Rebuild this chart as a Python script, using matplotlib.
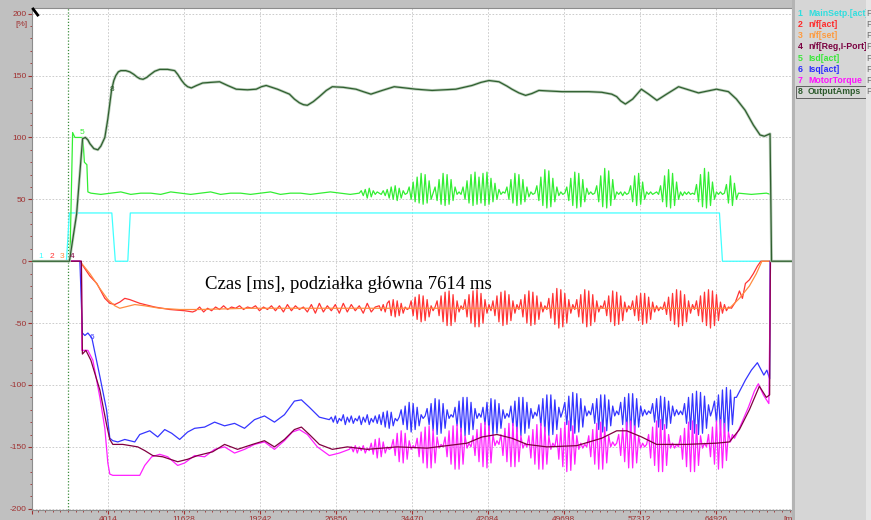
import numpy as np
import matplotlib
matplotlib.use("Agg")
import matplotlib.pyplot as plt
import matplotlib.transforms as mtransforms
from matplotlib.patches import Rectangle
from matplotlib.ticker import FixedLocator, MultipleLocator

plt.rcParams["axes.unicode_minus"] = False

# time axis [ms]: 10 main divisions of 7614 ms
t_min, t_max = -3600, 72540
main_div = 7614
x_labels = ["", "4014", "11628", "19242", "26856", "34470", "42084",
            "49698", "57312", "64926", "[ms]"]
y_ticks = [-200, -150, -100, -50, 0, 50, 100, 150, 200]

trace_names = ["MainSetp.[act]", "n/f[act]", "n/f[set]", "n/f[Reg,I-Port]",
               "Isd[act]", "Isq[act]", "MotorTorque", "OutputAmps"]
line_colors = ["#40ffff", "#ff3434", "#ff8c40", "#800040",
               "#33ee33", "#3535ff", "#ff20ff", "#2f5f2f"]
text_colors = ["#30dede", "#ff2828", "#ff9a3c", "#7a0040",
               "#38e838", "#2a2aff", "#ff10ff", "#2c5a2c"]

step = 200  # ms between samples in the oscillating stretches

# 1 MainSetp.[act]
setp = [(-3600, 0), (-150, 0), (150, 39), (4400, 39), (4750, 0), (6000, 0),
        (6250, 39), (65300, 39), (65600, 0), (72540, 0)]

# 8 OutputAmps
amps = [(-3600, 0), (150, 0), (870, 38), (1470, 99), (1750, 100), (2000, 98),
        (2200, 95), (2600, 91), (3000, 90), (3300, 93), (3700, 100), (4000, 115),
        (4370, 138), (4600, 146), (4800, 150), (5050, 153), (5300, 154),
        (5800, 154), (6200, 153), (6600, 151), (6900, 149), (7200, 147.5),
        (7530, 147), (7900, 148.5), (8200, 150.5), (8700, 153.5), (9200, 155),
        (10000, 155), (10700, 154), (11000, 151), (11400, 146), (11700, 143),
        (12000, 141), (12370, 140), (12900, 142), (13500, 144), (14300, 144.5),
        (15200, 145), (16000, 142), (16870, 139), (18000, 138.5), (18870, 139),
        (19400, 141), (19870, 142), (21000, 139), (22200, 135), (22700, 131),
        (23200, 128), (23600, 126.5), (24000, 126), (24600, 129), (25200, 133),
        (25900, 138), (26500, 141), (27600, 140.5), (28870, 139), (29600, 137),
        (30370, 135), (31500, 138), (32700, 141), (33800, 140), (34870, 139),
        (36500, 138), (38870, 139), (40500, 142), (41400, 144.5), (42200, 146),
        (43200, 145), (44000, 141.5), (44500, 139), (45200, 136), (45870, 134),
        (46500, 135.5), (47200, 138), (48300, 137.5), (49530, 137), (52200, 137),
        (53500, 136.5), (54500, 135), (55000, 133), (55400, 129.5), (55870, 127),
        (56600, 131), (57470, 139), (58200, 135), (59030, 130), (60000, 135),
        (61200, 141), (62200, 138.5), (63200, 136), (64100, 137.5), (65000, 139),
        (66200, 137), (67000, 131), (67870, 122), (68700, 110), (69370, 102),
        (69800, 101), (70370, 103), (70520, 0), (72540, 0)]

# 5 Isd[act]
isd_head = [(-3600, 0), (200, 0), (470, 104), (700, 100), (1500, 100),
            (1650, 80), (1900, 78), (2000, 56), (2300, 55), (3300, 54),
            (4300, 55), (5300, 56), (6300, 54), (7300, 55), (8300, 55),
            (9300, 54), (10300, 56), (11300, 55), (12300, 54), (13300, 55),
            (14300, 56), (15300, 54), (16300, 55), (17300, 55), (18300, 54),
            (19300, 55), (20300, 56), (21300, 54), (22300, 55), (23300, 55),
            (24300, 54), (25300, 55), (26300, 56), (27300, 55), (28300, 54)]
isd_osc_t0 = 29200
isd_osc = [55, 57, 53, 58, 51, 59, 52, 57, 54, 56,
           55, 54,
           57, 53, 58, 51, 60, 50, 61, 49, 59, 51, 57, 54,
           55,
           60, 50, 64, 48, 68, 47, 71, 46, 70, 47, 65, 50,
           55,
           60, 49, 66, 46, 71, 45, 70, 46, 66, 49, 60,
           54, 56, 54,
           60, 50, 65, 47, 70, 45, 72, 46, 68, 47, 71, 45, 72, 46, 67, 48, 63, 50, 58,
           54, 56, 55,
           60, 50, 66, 47, 71, 45, 70, 46, 66, 48, 60, 52,
           56, 54, 55,
           61, 49, 68, 45, 74, 43, 73, 44, 67, 48, 60,
           53, 56, 54, 55,
           60, 49, 67, 45, 72, 43, 71, 44, 66, 48, 59,
           54, 56, 54, 55,
           61, 48, 69, 44, 75, 43, 73, 45, 66, 50,
           56, 54, 56, 53, 56, 54, 55,
           61, 48, 69, 45, 71, 46, 64, 50,
           56, 54, 56, 54, 55, 56, 54,
           61, 48, 69, 44, 74, 43, 71, 45, 64, 50,
           56, 53, 56, 54, 56, 54, 55, 54,
           62, 48, 70, 44, 75, 43, 72, 45, 64, 50,
           56, 54, 56, 54, 55,
           62, 47, 69, 45, 63, 50]
isd_tail = [(67200, 55), (68500, 54), (70000, 55), (70420, 54), (70480, 0), (72540, 0)]

# 2 n/f[act]
nact_head = [(-3600, 0), (1200, 0), (2200, -12), (2900, -18), (3700, -30),
             (4200, -34), (4700, -35), (5200, -33), (5700, -30), (6200, -31),
             (7200, -34), (8700, -37), (10200, -39), (11700, -40), (12500, -41)]
nact_rip_t0 = 12800
nact_rip = [-40, -37, -41, -38, -40, -37, -39, -36, -39, -37, -38, -36, -39, -37,
            -38, -36, -40, -37, -39, -36, -40, -36, -41, -35, -40, -36, -39, -37,
            -41, -35, -42, -34, -41, -36, -40, -35, -42, -34, -41, -35, -40, -36,
            -42, -34, -41, -37]
nact_osc_t0 = 31200
nact_osc = [-36, -40, -35, -41, -34,
            -32, -44, -31, -45, -32, -44, -34, -42,
            -37, -39, -38,
            -32, -44, -29, -47, -27, -49, -28, -48, -31, -45,
            -36, -40, -37,
            -32, -44, -28, -49, -25, -52, -24, -52, -27, -49, -32,
            -41, -36, -39,
            -31, -45, -27, -50, -24, -53, -23, -53, -26, -50, -31,
            -42, -35, -40,
            -32, -44, -28, -49, -25, -52, -24, -51, -27, -48, -32,
            -42, -35, -39,
            -31, -45, -27, -50, -24, -52, -25, -51, -28, -47, -33,
            -41, -36, -39,
            -30, -46, -26, -51, -22, -54, -23, -53, -26, -50, -31,
            -42, -35, -39,
            -31, -45, -27, -50, -23, -53, -24, -52, -27, -49, -32,
            -41, -36, -38,
            -32, -44, -28, -49, -24, -52, -25, -51, -28, -48, -33,
            -41, -36, -39,
            -32, -44, -28, -48, -26, -51, -26, -50, -29, -47, -33,
            -41, -36, -40, -37, -39,
            -33, -43, -29, -48, -26, -51, -23, -53, -24, -52, -27, -49, -32,
            -42, -35, -39,
            -32, -44, -28, -49, -25, -52, -23, -54, -24, -52, -27, -48, -33,
            -42, -35, -40, -37]
nact_tail = [(66500, -38), (66900, -33), (67300, -24), (67600, -30), (67900, -18),
             (68300, -15), (68700, -10), (69100, -4), (69450, 0), (72540, 0)]

# 3 n/f[set]
nset = [(-3600, 0), (1200, 0), (2200, -10), (3200, -22), (4000, -31),
        (4700, -36), (5200, -38), (5700, -37), (6700, -35), (7700, -36),
        (9200, -38), (11200, -39), (13200, -39), (18200, -38), (23200, -38),
        (30000, -38), (40000, -38), (50000, -38), (60000, -38), (66300, -38),
        (67300, -30), (68300, -20), (69000, -10), (69550, 0), (72540, 0)]

# 6 Isq[act]
isq_head = [(-3600, 0), (1200, 0), (1450, -58), (1700, -60), (2000, -58),
            (2400, -62), (3200, -93), (3870, -120), (4200, -143), (4500, -145),
            (5000, -146), (5700, -144), (6200, -145), (6700, -146), (7200, -140),
            (8200, -137), (9000, -142), (9700, -136), (10400, -139), (11200, -144),
            (12000, -138), (12700, -135), (13700, -134), (14700, -130),
            (15700, -133), (16700, -131), (17700, -135), (18700, -128),
            (19700, -125), (20700, -130), (21700, -124), (22700, -113),
            (23400, -112), (24200, -118), (25200, -126), (26200, -128)]
isq_osc_t0 = 26400
isq_osc = [-126, -130, -125, -131, -127, -129, -124, -132, -126, -130, -125, -131,
           -127, -129, -125, -132, -126, -130, -124, -132, -127, -130, -125, -131,
           -124, -132, -122, -134, -121, -135, -122, -133,
           -127, -129, -126,
           -120, -132, -117, -136, -114, -138, -115, -136, -118, -133,
           -124, -127, -125,
           -119, -132, -115, -137, -111, -140, -112, -139, -115, -135, -120,
           -127, -124, -126,
           -118, -133, -113, -138, -110, -141, -110, -140, -114, -136, -119,
           -127, -123, -126,
           -118, -132, -114, -137, -111, -140, -112, -139, -115, -135, -120,
           -127, -123, -126,
           -117, -133, -113, -138, -110, -141, -110, -139, -114, -135, -119,
           -127, -122, -125,
           -116, -133, -111, -138, -108, -141, -108, -140, -112, -136, -118,
           -126, -121,
           -114, -132, -109, -137, -106, -139, -107, -138, -111, -134, -117,
           -125, -121, -124,
           -115, -131, -111, -136, -108, -138, -108, -137, -112, -133, -117,
           -125, -121, -124,
           -114, -132, -110, -137, -107, -139, -107, -138, -111, -134, -117,
           -125, -120, -124, -121, -123,
           -115, -130, -111, -134, -109, -136, -110, -135, -113, -131, -117,
           -125, -120, -124, -121, -124,
           -115, -131, -110, -136, -107, -139, -105, -140, -106, -139, -109, -135, -116,
           -125, -120,
           -113, -130, -108, -136, -104, -139, -102, -138, -104, -132, -110]
isq_tail = [(67000, -110), (67900, -96), (68500, -88), (69100, -82), (69750, -92),
            (70050, -88), (70330, -95), (70380, 0), (72540, 0)]

# 7 MotorTorque
torque_head = [(-3600, 0), (1350, 0), (1400, -72), (2000, -72), (2500, -80),
               (3200, -110), (3700, -135), (4000, -163), (4200, -172),
               (4500, -173), (7200, -173), (7700, -165), (8400, -158),
               (9200, -156), (10000, -158), (11000, -165), (11700, -163),
               (12700, -157), (13700, -158), (14700, -152), (15700, -150),
               (16700, -155), (17700, -152), (18700, -148), (19700, -146),
               (20700, -152), (21700, -145), (22500, -138), (23200, -136),
               (24000, -140), (25000, -150), (26200, -157), (27200, -155),
               (28200, -152)]
torque_osc_t0 = 28400
torque_osc = [-150, -154, -149, -155, -150, -153, -149, -155, -151, -153,
              -147, -156, -144, -159, -143, -158, -146, -155,
              -150, -152, -151,
              -144, -157, -139, -162, -137, -163, -139, -160, -145,
              -152, -149, -151,
              -143, -158, -138, -163, -134, -167, -133, -167, -136, -163, -142,
              -151, -148, -150,
              -142, -158, -137, -164, -133, -168, -132, -168, -135, -164, -141,
              -151, -147, -150,
              -141, -157, -136, -162, -131, -166, -130, -167, -133, -163, -140,
              -149, -145, -148,
              -140, -157, -135, -162, -131, -166, -131, -166, -134, -162, -141,
              -151, -147, -150,
              -141, -159, -136, -164, -132, -168, -131, -168, -134, -164, -141,
              -152, -147, -150,
              -140, -160, -135, -166, -130, -170, -129, -169, -133, -164, -141,
              -152, -147, -151, -148, -150,
              -141, -158, -136, -164, -131, -168, -130, -168, -134, -163, -141,
              -150, -146, -149, -147,
              -140, -157, -135, -162, -130, -167, -129, -167, -133, -163, -141,
              -151, -147, -150, -148,
              -140, -159, -134, -165, -129, -170, -128, -170, -132, -165, -140,
              -151, -147, -151, -148, -150,
              -141, -160, -135, -166, -130, -170, -129, -170, -132, -165, -141,
              -151, -147, -150,
              -140, -158, -134, -164, -129, -168, -128, -167, -131, -161, -138,
              -146, -140, -143]
torque_tail = [(67000, -140), (67400, -133), (68200, -118), (68800, -105),
               (69200, -99), (69700, -108), (70250, -115), (70420, 0), (72540, 0)]

# 4 n/f[Reg,I-Port]
nreg = [(-3600, 0), (1350, 0), (1450, -75), (1800, -72), (2300, -80),
        (3200, -104), (3900, -133), (4200, -144), (4500, -148), (5500, -148),
        (7000, -150), (7700, -153), (8500, -157), (9500, -158), (11000, -162),
        (12000, -160), (13000, -157), (14500, -154), (15700, -148), (17000, -152),
        (18500, -148), (19700, -145), (20700, -150), (21700, -144), (22700, -136),
        (23400, -134), (24200, -140), (25200, -148), (26500, -152), (28000, -150),
        (30000, -152), (33000, -150), (36000, -151), (38000, -149), (40000, -147),
        (41500, -142), (43000, -140), (44500, -143), (46000, -148), (48000, -150),
        (51000, -149), (53500, -143), (55000, -137), (56000, -137), (57500, -142),
        (59000, -148), (62000, -148), (65000, -147), (66300, -146), (67300, -136),
        (68300, -120), (69300, -101), (70000, -110), (70330, -108), (70400, 0),
        (72540, 0)]


def join(*parts):
    ts, vs = [], []
    for p in parts:
        if isinstance(p, tuple):  # (start, spacing, values)
            t0, dt, vals = p
            ts += [t0 + dt * i for i in range(len(vals))]
            vs += list(vals)
        else:
            ts += [a for a, b in p]
            vs += [b for a, b in p]
    return np.array(ts, dtype=float), np.array(vs, dtype=float)


traces = [
    join(setp),
    join(nact_head, (nact_rip_t0, 400, nact_rip), (nact_osc_t0, step, nact_osc), nact_tail),
    join(nset),
    join(nreg),
    join(isd_head, (isd_osc_t0, step, isd_osc), isd_tail),
    join(isq_head, (isq_osc_t0, step, isq_osc), isq_tail),
    join(torque_head, (torque_osc_t0, step, torque_osc), torque_tail),
    join(amps),
]
zorders = [2, 3, 4, 7, 8, 5, 6, 9]

fig = plt.figure(figsize=(8.71, 5.2), dpi=100, facecolor="#c0c0c0")
ax = fig.add_axes([32 / 871, 1 - 510 / 520, 759.7 / 871, 502 / 520])
ax.set_facecolor("white")

for i, (t, v) in enumerate(traces):
    if i == 7:
        ax.plot(t, v, color="#bccfbc", lw=2.0, zorder=zorders[i], solid_joinstyle="round")
    ax.plot(t, v, color=line_colors[i], lw=0.9, zorder=zorders[i] + 0.1,
            solid_joinstyle="round")

ax.axvline(0, color="#3c8c3c", ls=(0, (1, 1.5)), lw=0.9, zorder=1.5)

ax.set_xlim(t_min, t_max)
ax.set_ylim(-201, 204.6)
ax.xaxis.set_major_locator(FixedLocator([t_min + main_div * k for k in range(11)]))
ax.xaxis.set_minor_locator(MultipleLocator(main_div / 10))
ax.set_xticklabels(x_labels)
ax.set_yticks(y_ticks)
ax.yaxis.set_minor_locator(MultipleLocator(10))
ax.grid(True, which="major", color="#c4c4c4", ls=(0, (2, 2)), lw=0.6, zorder=1)
ax.set_axisbelow(True)

lab = "#a03030"
ax.tick_params(axis="x", which="major", colors=lab, labelsize=6, length=3, pad=1.5)
ax.tick_params(axis="x", which="minor", colors=lab, length=1.5)
ax.tick_params(axis="y", which="major", colors=lab, labelsize=6, length=3, pad=1)
ax.tick_params(axis="y", which="minor", colors=lab, length=1.5)
for lbl in ax.get_xticklabels() + ax.get_yticklabels():
    lbl.set_family("Liberation Sans")
for s in ax.spines.values():
    s.set_color("#8c8c8c")
    s.set_linewidth(0.8)

blend = mtransforms.blended_transform_factory(ax.transAxes, ax.transData)
ax.text(-0.006, 191, "[%]", transform=blend, ha="right", va="center",
        fontsize=6, color=lab, family="Liberation Sans")

# trace number markers
marks = [("1", -2730, 4, 0), ("2", -1630, 4, 1), ("3", -630, 4, 2), ("4", 430, 4, 3),
         ("5", 1380, 104, 4), ("6", 2380, -62, 5), ("8", 4390, 139, 7)]
for txt, mx, my, ci in marks:
    ax.text(mx, my, txt, color=line_colors[ci], fontsize=6, ha="center", va="center",
            zorder=10, family="Liberation Sans")

ax.plot([0.0015, 0.0075], [0.998, 0.986], transform=ax.transAxes, color="black",
        lw=2, clip_on=False, zorder=11)

ax.text(13740, -19, "Czas [ms], podziałka główna 7614 ms", fontsize=13.5,
        family="Liberation Serif", ha="left", va="center", zorder=12)

# legend panel on the right
fig.patches.append(Rectangle((791.7 / 871, 0), 3.3 / 871, 1, transform=fig.transFigure,
                             facecolor="#b4b4b4", edgecolor="none", zorder=1))
fig.patches.append(Rectangle((795 / 871, 0), 71 / 871, 1, transform=fig.transFigure,
                             facecolor="#d6d6d6", edgecolor="none", zorder=1))
# the "F" column covers the end of long names, as in the original panel
fig.patches.append(Rectangle((865.5 / 871, 0), 5.5 / 871, 1, transform=fig.transFigure,
                             facecolor="#e6e6e6", edgecolor="none", zorder=5))
for k, name in enumerate(trace_names):
    yp = 1 - (13.3 + 11.2 * k) / 520
    fig.text(800 / 871, yp, str(k + 1), color=text_colors[k], fontsize=6.3,
             fontweight="bold", ha="center", va="center", family="Liberation Sans",
             zorder=3)
    fig.text(808 / 871, yp, name, color=text_colors[k], fontsize=6.3,
             fontweight="bold", ha="left", va="center", family="Liberation Sans",
             zorder=3)
    fig.text(866.5 / 871, yp, "F", color="#707070", fontsize=6.3,
             ha="left", va="center", family="Liberation Sans", zorder=6)
fig.patches.append(Rectangle((795.5 / 871, 1 - 97.5 / 520), 70 / 871, 11.5 / 520,
                             transform=fig.transFigure, facecolor="none",
                             edgecolor="#606060", lw=0.7, zorder=4))

fig.savefig("out.png", dpi=100, facecolor=fig.get_facecolor())
